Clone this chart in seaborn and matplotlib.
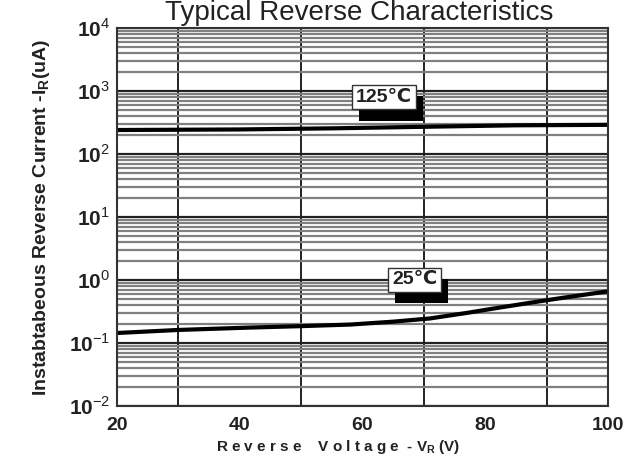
import matplotlib
matplotlib.use("Agg")
import matplotlib.pyplot as plt
import matplotlib.patheffects as pe
from matplotlib.ticker import LogLocator, FixedLocator
import seaborn as sns
import numpy as np
import pandas as pd

# data
volts_125 = [20, 40, 55, 70, 85, 100]
current_125 = [240, 245, 255, 270, 285, 290]
volts_25 = [20, 30, 42, 50, 58, 65, 71, 77, 82, 87, 92, 100]
current_25 = [0.144, 0.161, 0.176, 0.185, 0.196, 0.218, 0.245, 0.3, 0.36, 0.43, 0.51, 0.66]
x_ticks = [20, 40, 60, 80, 100]
y_ticks = [1e-2, 1e-1, 1e0, 1e1, 1e2, 1e3, 1e4]
y_tick_labels = ["$\\mathbf{10}^{-2}$", "$\\mathbf{10}^{-1}$", "$\\mathbf{10}^{0}$",
                 "$\\mathbf{10}^{1}$", "$\\mathbf{10}^{2}$", "$\\mathbf{10}^{3}$",
                 "$\\mathbf{10}^{4}$"]

df = pd.concat([
    pd.DataFrame({"V": volts_125, "I": current_125, "T": "125"}),
    pd.DataFrame({"V": volts_25, "I": current_25, "T": "25"}),
])

sns.set_style("white")
plt.rcParams["font.family"] = ["Liberation Sans", "DejaVu Sans"]
plt.rcParams["mathtext.fontset"] = "custom"
plt.rcParams["mathtext.rm"] = "Liberation Sans"
plt.rcParams["mathtext.bf"] = "Liberation Sans:bold"

fig = plt.figure(figsize=(6.31, 4.66), dpi=100)
ax = fig.add_axes([0.1854, 0.1288, 0.7781, 0.8112])

ax.set_yscale("log")
ax.set_xlim(20, 100)
ax.set_ylim(1e-2, 1e4)

# grid: gray minor lines, black decade and voltage lines
ax.yaxis.set_minor_locator(LogLocator(base=10, subs=np.arange(2, 10)))
ax.xaxis.set_minor_locator(FixedLocator(np.arange(20, 101, 10)))
ax.grid(which="minor", axis="y", color="#808080", linewidth=1.6)
ax.grid(which="major", axis="y", color="#222222", linewidth=1.6)
ax.grid(which="minor", axis="x", color="#222222", linewidth=1.4)
ax.set_axisbelow(True)

sns.lineplot(data=df, x="V", y="I", units="T", estimator=None, color="black",
             linewidth=3, ax=ax, legend=False)

ax.set_xticks(x_ticks)
ax.set_xticklabels([str(v) for v in x_ticks], fontsize=14, fontweight="bold", color="#222222")
ax.set_yticks(y_ticks)
ax.set_yticklabels(y_tick_labels, fontsize=15, color="#222222")
ax.tick_params(which="both", length=0, pad=5)
ax.tick_params(axis="x", pad=8)

for s in ax.spines.values():
    s.set_color("#333333")
    s.set_linewidth(1.5)

ax.set_xlabel("R e v e r s e    V o l t a g e  - V$_{\\mathbf{R}}$ (V)", fontsize=11,
              fontweight="bold", color="#222222")
ax.xaxis.set_label_coords(0.45, -0.085)
ax.set_ylabel("Instabtabeous Reverse Current -I$_{\\mathbf{R}}$(uA)", fontsize=14,
              fontweight="bold", color="#222222", labelpad=12)

fig.text(0.57, 0.957, "Typical Reverse Characteristics", ha="center", va="baseline",
         fontsize=20, color="#222222")

# labels in white boxes with a black drop shadow
for txt, xv, yv in [("125\u2103", 63.5, 800), ("25\u2103", 68.5, 1.0)]:
    t = ax.text(xv, yv, txt, ha="center", va="center", fontsize=14, fontweight="bold",
                color="#222222",
                bbox=dict(boxstyle="square,pad=0.2", facecolor="white", edgecolor="#333333",
                          linewidth=1))
    t.get_bbox_patch().set_path_effects([
        pe.SimplePatchShadow(offset=(5, -8), shadow_rgbFace="black", alpha=1),
        pe.Normal(),
    ])

fig.savefig("out.png", dpi=100)
